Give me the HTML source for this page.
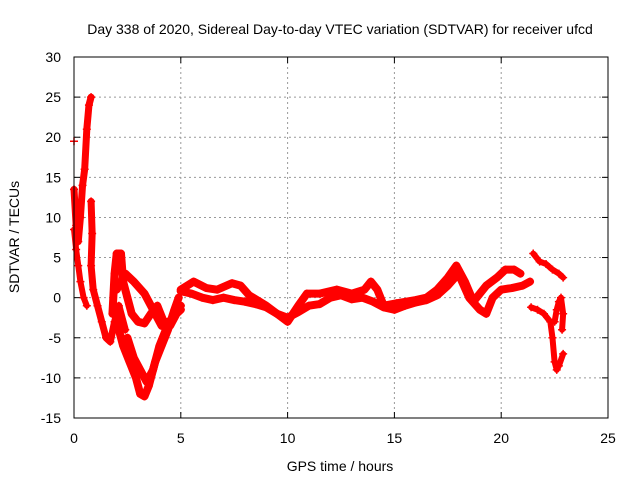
<!DOCTYPE html>
<html><head><meta charset="utf-8"><style>
body{margin:0;background:#fff}
svg{font-family:"Liberation Sans",sans-serif;font-size:14px}
</style></head><body>
<svg id="chart" width="640" height="480">
<text x="340" y="34" text-anchor="middle">Day 338 of 2020, Sidereal Day-to-day VTEC variation (SDTVAR) for receiver ufcd</text>
<text x="340" y="471" text-anchor="middle">GPS time / hours</text>
<text transform="translate(19,237) rotate(-90)" text-anchor="middle">SDTVAR / TECUs</text>
<g id="grid"></g><g id="ticks"></g><g id="series"></g>
<rect x="74" y="57" width="534" height="361" fill="none" stroke="#000" stroke-width="1"/>
</svg>
<script>
const xTicks=[0,5,10,15,20,25];
const yTicks=[-15,-10,-5,0,5,10,15,20,25,30];
const track1=[[0,13.5],[0.1,9],[0.2,7],[0.3,10],[0.4,14],[0.5,16],[0.6,21],[0.7,24],[0.8,25]];
const track2=[[0,8.5],[0.1,6],[0.2,4],[0.3,2],[0.45,0],[0.6,-1]];
const track3=[[0.8,12],[0.85,8],[0.8,4],[0.9,1],[1.1,-1],[1.3,-3],[1.5,-5],[1.7,-5.5],[1.9,-3],[2.1,-1],[2.4,-4]];
const track4=[[1.8,-2],[1.9,3],[2.0,5.5],[2.2,5.5],[2.3,2],[2.5,0],[2.7,-2],[3.0,-3],[3.3,-3.2],[3.6,-2],[3.9,-1],[4.2,-3],[4.5,-3.5],[4.8,-2],[5.0,-1.5]];
const track5=[[2.0,1],[2.4,3],[2.8,2],[3.3,0.5],[3.8,-2],[4.1,-3.5],[4.4,-3]];
const track6=[[2.0,-3],[2.3,-6],[2.6,-8],[2.9,-10],[3.1,-12],[3.3,-12.3],[3.5,-11],[3.8,-8],[4.1,-6],[4.4,-4],[4.7,-1.5],[4.9,0]];
const track7=[[2.5,-5],[2.8,-7.5],[3.1,-9],[3.4,-10.5],[3.7,-9],[4.0,-6],[4.3,-4],[4.7,-2],[5.0,-1]];
const track8=[[5.0,1],[5.6,2],[6.2,1.2],[6.7,1],[7.4,1.8],[7.8,1.5],[8.2,0.3],[9,-1],[9.5,-2],[10,-3],[10.5,-1],[10.9,0.5],[11.5,0.5],[12.3,1],[13,0.5],[13.6,1],[13.9,2],[14.2,1],[14.5,-1],[15.1,-0.7],[16,-0.3],[16.5,0],[17,1],[17.5,2.5],[17.9,4],[18.3,2],[18.7,-0.5],[19.0,0.5],[19.3,1.5],[19.8,2.5],[20.2,3.5],[20.6,3.5],[20.9,3]];
const track9=[[5.0,0.8],[5.5,0.5],[6,0],[6.5,-0.3],[7,0],[7.5,-0.3],[8,-0.5],[8.5,-0.8],[9,-1.2],[9.5,-2],[10,-2.5],[10.5,-1.8],[11,-1],[11.5,-0.8],[12,0],[12.5,0.3],[13,-0.2],[13.5,0],[14,-0.5],[14.5,-1.2],[15,-1.5],[15.5,-1],[16,-0.6],[16.5,-0.3],[17,0.3],[17.5,1.5],[18,3],[18.5,0],[19,-1.5],[19.3,-2],[19.6,0],[20,1],[20.5,1.2],[21,1.5],[21.35,2]];
const track10=[[21.5,5.5],[21.8,4.5],[22.1,4.2],[22.4,3.5],[22.7,3],[22.9,2.5]];
const track11=[[21.4,-1.2],[21.7,-1.5],[22,-2],[22.3,-3],[22.4,-5],[22.5,-8],[22.6,-9],[22.7,-8.5],[22.9,-7]];
const track12=[[22.5,-3],[22.6,-1.5],[22.7,-0.5],[22.8,0],[22.9,-2],[22.85,-4]];
const tracks=[track1,track2,track3,track4,track5,track6,track7,track8,track9,track10,track11,track12];
const widths=[7,6,7,8,8,8,8,8,8,6,6,6];
const NS="http://www.w3.org/2000/svg";
const X0=74,X1=608,Y0=418,Y1=57;
function sx(t){return X0+(t-0)/(25-0)*(X1-X0);}
function sy(v){return Y0-(v+15)/(30+15)*(Y0-Y1);}
function mk(tag,attrs){const e=document.createElementNS(NS,tag);for(const k in attrs)e.setAttribute(k,attrs[k]);return e;}
const grid=document.getElementById('grid'),ticks=document.getElementById('ticks'),ser=document.getElementById('series');
xTicks.forEach(t=>{
  const x=sx(t);
  if(t>0&&t<25){const g=mk('line',{x1:x,x2:x,y1:Y1,y2:Y0,stroke:'#999','stroke-dasharray':'2,3'});
  
  grid.appendChild(g);}
  const a=mk('line',{x1:x,x2:x,y1:Y0,y2:Y0-6,stroke:'#000'});ticks.appendChild(a);
  const b=mk('line',{x1:x,x2:x,y1:Y1,y2:Y1+6,stroke:'#000'});ticks.appendChild(b);
  const l=mk('text',{x:x,y:443,'text-anchor':'middle'});l.textContent=t;
  
  ticks.appendChild(l);
});
yTicks.forEach(v=>{
  const y=sy(v);
  if(v>-15&&v<30){const g=mk('line',{x1:X0,x2:X1,y1:y,y2:y,stroke:'#999','stroke-dasharray':'2,3'});
  
  grid.appendChild(g);}
  ticks.appendChild(mk('line',{x1:X0,x2:X0+6,y1:y,y2:y,stroke:'#000'}));
  ticks.appendChild(mk('line',{x1:X1,x2:X1-6,y1:y,y2:y,stroke:'#000'}));
  const l=mk('text',{x:61,y:y+5,'text-anchor':'end'});l.textContent=v;
  
  ticks.appendChild(l);
});
tracks.forEach((tr,i)=>{
  const p=mk('polyline',{points:tr.map(d=>sx(d[0])+','+sy(d[1])).join(' '),fill:'none',stroke:'#f00','stroke-width':widths[i],'stroke-linejoin':'round','stroke-linecap':'round'});
  
  
  ser.appendChild(p);
  tr.forEach(d=>{
    const x=sx(d[0]),y=sy(d[1]);
    const m=mk('path',{d:`M${x-4},${y}H${x+4}M${x},${y-4}V${y+4}`,stroke:'#f00','stroke-width':1.5});
    
    
    ser.appendChild(m);
  });
});
const extra=[[0,19.5]];
extra.forEach(d=>{const x=sx(d[0]),y=sy(d[1]);
  const m=mk('path',{d:`M${x-4},${y}H${x+4}M${x},${y-4}V${y+4}`,stroke:'#f00','stroke-width':1.5});
  
  ser.appendChild(m);});
</script>
</body></html>
